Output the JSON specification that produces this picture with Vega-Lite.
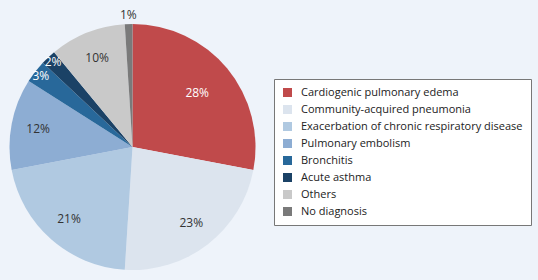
{
  "$schema": "https://vega.github.io/schema/vega-lite/v6.json",
  "autosize": {"type": "none"},
  "width": 265,
  "height": 266,
  "padding": {"left": 0, "top": 14, "right": 273, "bottom": 0},
  "background": "#eef3fa",
  "config": {"view": {"stroke": null}, "font": "Open Sans"},
  "data": {"values": [
    {"cat": "Cardiogenic pulmonary edema", "pct": 28, "label": "28%", "ord": 1},
    {"cat": "Community-acquired pneumonia", "pct": 23, "label": "23%", "ord": 2},
    {"cat": "Exacerbation of chronic respiratory disease", "pct": 21, "label": "21%", "ord": 3},
    {"cat": "Pulmonary embolism", "pct": 12, "label": "12%", "ord": 4},
    {"cat": "Bronchitis", "pct": 3, "label": "3%", "ord": 5},
    {"cat": "Acute asthma", "pct": 2, "label": "2%", "ord": 6},
    {"cat": "Others", "pct": 10, "label": "10%", "ord": 7},
    {"cat": "No diagnosis", "pct": 1, "label": "1%", "ord": 8}
  ]},
  "encoding": {
    "theta": {"field": "pct", "type": "quantitative", "stack": true},
    "order": {"field": "ord", "type": "quantitative"}
  },
  "layer": [
    {
      "mark": {"type": "arc", "outerRadius": 123},
      "encoding": {
        "color": {
          "field": "cat", "type": "nominal",
          "sort": {"field": "ord"},
          "scale": {
            "domain": ["Cardiogenic pulmonary edema", "Community-acquired pneumonia", "Exacerbation of chronic respiratory disease", "Pulmonary embolism", "Bronchitis", "Acute asthma", "Others", "No diagnosis"],
            "range": ["#c04a4b", "#dce4ee", "#b0c9e1", "#8dadd3", "#28689a", "#1b4266", "#c9c9c9", "#7a7a7a"]
          },
          "legend": {
            "title": null,
            "orient": "none",
            "legendX": 274,
            "legendY": 65,
            "symbolType": "square",
            "symbolSize": 81,
            "symbolStrokeWidth": 0,
            "labelFont": "Open Sans",
            "labelFontSize": 11,
            "labelColor": "#222222",
            "labelLimit": 400,
            "labelOffset": 8,
            "rowPadding": 5,
            "padding": 8,
            "fillColor": "white",
            "strokeColor": "#777777"
          }
        }
      }
    },
    {
      "mark": {"type": "text", "radius": 84, "fontSize": 12, "font": "Open Sans", "color": "white"},
      "encoding": {
        "text": {"field": "label", "type": "nominal"},
        "opacity": {"condition": {"test": "datum.pct == 28", "value": 1}, "value": 0}
      }
    },
    {
      "mark": {"type": "text", "radius": 96, "fontSize": 12, "font": "Open Sans", "color": "#333333"},
      "encoding": {
        "text": {"field": "label", "type": "nominal"},
        "opacity": {"condition": {"test": "datum.pct >= 10 && datum.pct < 28", "value": 1}, "value": 0}
      }
    },
    {
      "mark": {"type": "text", "radius": 116, "fontSize": 12, "font": "Open Sans", "color": "white"},
      "encoding": {
        "text": {"field": "label", "type": "nominal"},
        "opacity": {"condition": {"test": "datum.pct == 2 || datum.pct == 3", "value": 1}, "value": 0}
      }
    },
    {
      "mark": {"type": "text", "radius": 132, "fontSize": 12, "font": "Open Sans", "color": "#333333"},
      "encoding": {
        "text": {"field": "label", "type": "nominal"},
        "opacity": {"condition": {"test": "datum.pct == 1", "value": 1}, "value": 0}
      }
    }
  ]
}
